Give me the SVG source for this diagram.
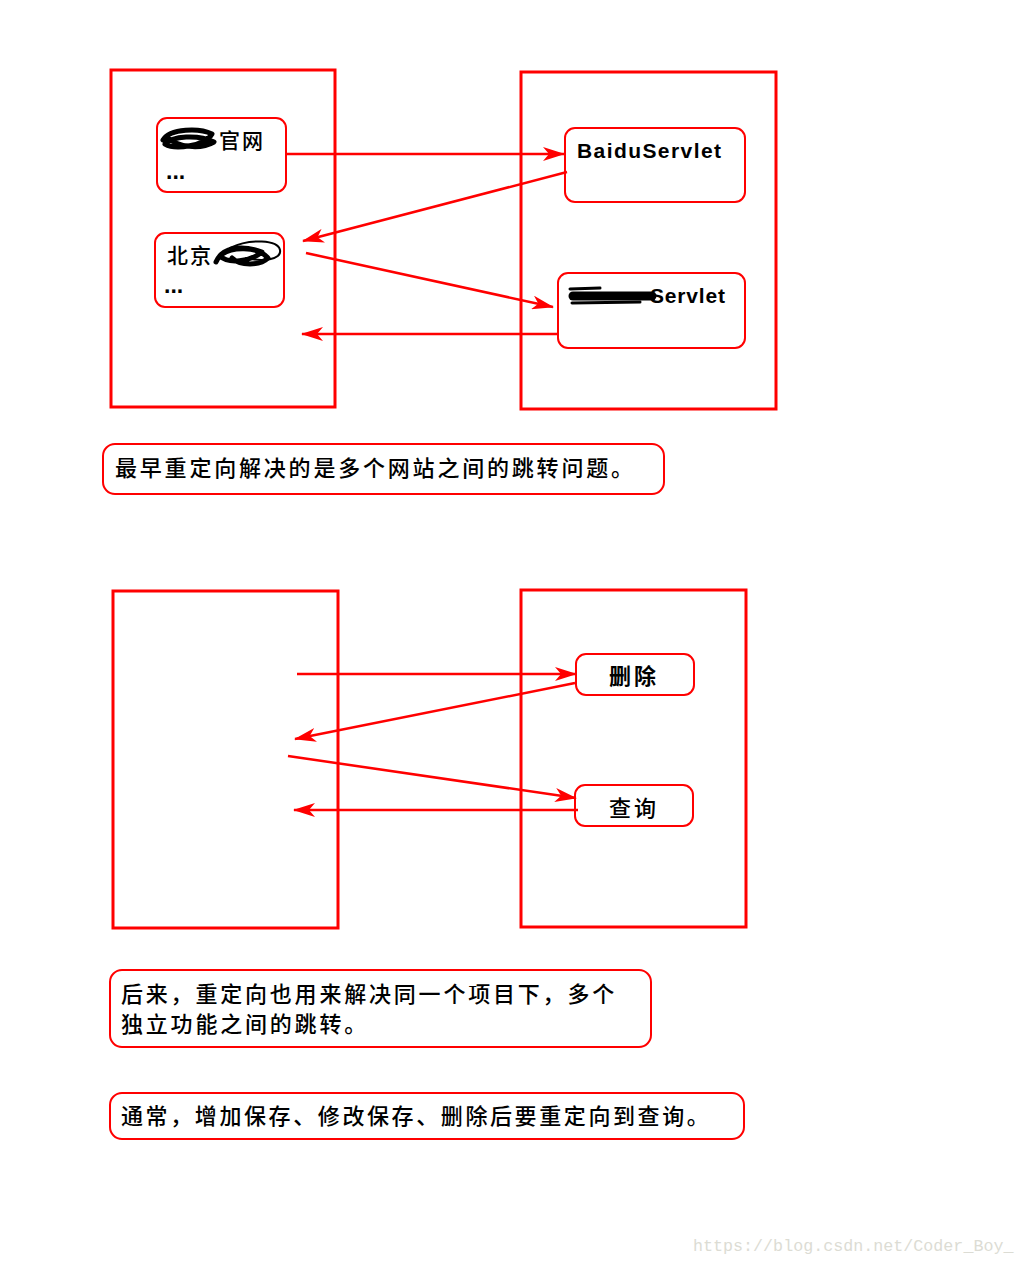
<svg xmlns="http://www.w3.org/2000/svg" width="1024" height="1264" viewBox="0 0 1024 1264">
<style>
.big{fill:none;stroke:#ff0000;stroke-width:3}
.node{fill:#fff;stroke:#ff0000;stroke-width:2}
.conn{stroke:#ff0000;stroke-width:2.5;fill:none}
.cn{font-family:"Noto Sans CJK SC","Noto Sans",sans-serif;font-size:22px;font-weight:500;fill:#000;letter-spacing:2.8px}
.en{font-family:"Liberation Sans",Arial,sans-serif;font-weight:bold;font-size:21px;fill:#000}
.scr{fill:none;stroke:#000;stroke-linecap:round;stroke-linejoin:round}
</style>
<defs>
<marker id="ah" viewBox="0 0 22 14" refX="21" refY="7" markerWidth="22" markerHeight="14" markerUnits="userSpaceOnUse" orient="auto">
<path d="M0,0 L22,7 L0,14 L6,7 z" fill="#ff0000"/>
</marker>
</defs>
<rect width="1024" height="1264" fill="#fff"/>

<g id="container-top-left"><rect class="big" x="111" y="70" width="224" height="337"/></g>
<g id="container-top-right"><rect class="big" x="521" y="72" width="255" height="337"/></g>

<g id="node-official-site">
<rect class="node" x="157" y="118" width="129" height="74" rx="10"/>
<path class="scr" stroke-width="5" d="M163,140 C170,128 200,128 212,134 C205,146 175,150 165,144 C172,136 198,134 214,142 C200,150 178,147 168,138"/>
<text class="cn" x="219" y="148" style="font-size:21px;letter-spacing:2px">官网</text>
<text class="en" x="166" y="179" style="font-size:23px">...</text>
</g>

<g id="node-beijing">
<rect class="node" x="155" y="233" width="129" height="74" rx="10"/>
<text class="cn" x="167" y="263" style="font-size:21px;letter-spacing:2px">北京</text>
<path class="scr" stroke-width="5" d="M216,262 C222,248 240,244 262,252 C250,262 228,264 220,256 C230,246 258,246 268,258 C260,266 240,266 232,258"/>
<path class="scr" stroke-width="2" d="M230,248 C250,238 278,240 280,250 C282,260 262,262 246,258"/>
<text class="en" x="164" y="293" style="font-size:23px">...</text>
</g>

<g id="node-baiduservlet">
<rect class="node" x="565" y="128" width="180" height="74" rx="10"/>
<text class="en" x="577" y="158" textLength="144" lengthAdjust="spacing">BaiduServlet</text>
</g>

<g id="node-servlet2">
<rect class="node" x="558" y="273" width="187" height="75" rx="10"/>
<path class="scr" stroke-width="9" d="M573,296 L652,296"/>
<path class="scr" stroke-width="3" d="M570,289 L600,288 M572,303 L640,302"/>
<text class="en" x="650" y="303" textLength="75" lengthAdjust="spacing">Servlet</text>
</g>

<g id="note-1">
<rect class="node" x="103" y="444" width="561" height="50" rx="12"/>
<text class="cn" x="115" y="476">最早重定向解决的是多个网站之间的跳转问题。</text>
</g>

<g id="container-bottom-left"><rect class="big" x="113" y="591" width="225" height="337"/></g>
<g id="container-bottom-right"><rect class="big" x="521" y="590" width="225" height="337"/></g>

<g id="node-delete">
<rect class="node" x="576" y="654" width="118" height="41" rx="10"/>
<text class="cn" x="609" y="684" style="letter-spacing:3px;font-weight:bold">删除</text>
</g>

<g id="node-query">
<rect class="node" x="575" y="785" width="118" height="41" rx="10"/>
<text class="cn" x="609" y="816" style="letter-spacing:3px">查询</text>
</g>

<g id="note-2">
<rect class="node" x="110" y="970" width="541" height="77" rx="12"/>
<text class="cn" x="121" y="1002">后来，重定向也用来解决同一个项目下，多个</text>
<text class="cn" x="121" y="1032">独立功能之间的跳转。</text>
</g>

<g id="note-3">
<rect class="node" x="110" y="1093" width="634" height="46" rx="12"/>
<text class="cn" x="121" y="1124" style="letter-spacing:2.6px">通常，增加保存、修改保存、删除后要重定向到查询。</text>
</g>

<g id="connectors">
<line class="conn" x1="286" y1="154" x2="564" y2="154" marker-end="url(#ah)"/>
<line class="conn" x1="567" y1="172" x2="303" y2="241" marker-end="url(#ah)"/>
<line class="conn" x1="306" y1="253" x2="553" y2="307" marker-end="url(#ah)"/>
<line class="conn" x1="558" y1="334" x2="302" y2="334" marker-end="url(#ah)"/>
<line class="conn" x1="297" y1="674" x2="576" y2="674" marker-end="url(#ah)"/>
<line class="conn" x1="575" y1="683" x2="295" y2="739" marker-end="url(#ah)"/>
<line class="conn" x1="288" y1="756" x2="576" y2="798" marker-end="url(#ah)"/>
<line class="conn" x1="578" y1="810" x2="294" y2="810" marker-end="url(#ah)"/>
</g>

<text x="693" y="1251" style="font-family:'Liberation Mono',monospace;font-size:16.7px;fill:#dcdcd4">https://blog.csdn.net/Coder_Boy_</text>
</svg>
